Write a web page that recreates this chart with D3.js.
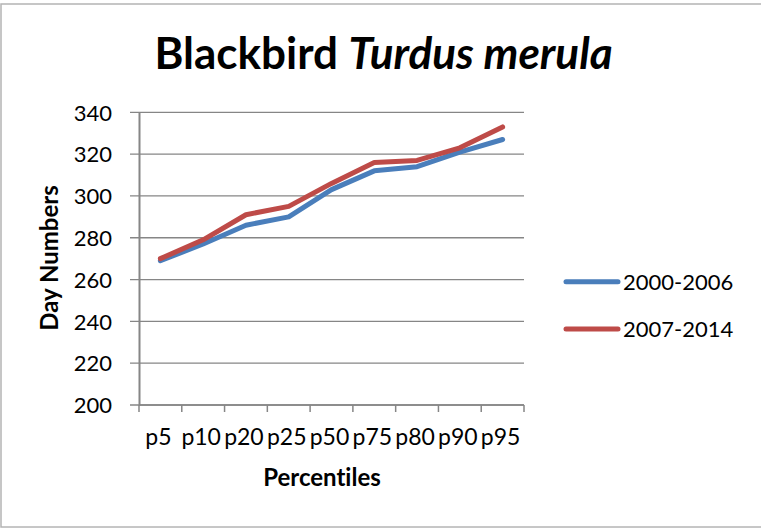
<!DOCTYPE html>
<html>
<head>
<meta charset="utf-8">
<script src="https://cdn.jsdelivr.net/npm/d3@7"></script>
<style>
  body { margin: 0; background: #fff; }
  text { font-family: Lato, "Open Sans", sans-serif; fill: #000; font-variant-ligatures: none; }
</style>
</head>
<body>
<svg id="chart"></svg>
<script>
// percentiles on the x axis
var percentiles = ["p5", "p10", "p20", "p25", "p50", "p75", "p80", "p90", "p95"];
// day numbers per period
var early = [269, 277, 286, 290, 303, 312, 314, 321, 327];   // 2000-2006
var late = [270, 279, 291, 295, 306, 316, 317, 323, 333];    // 2007-2014
var seriesNames = ["2000-2006", "2007-2014"];
var seriesColors = ["#4a7ebb", "#be4b48"];
var yTicks = [200, 220, 240, 260, 280, 300, 320, 340];

var W = 761, H = 528;
var svg = d3.select("#chart").attr("width", W).attr("height", H);

// outer chart border
svg.append("rect")
  .attr("x", 1).attr("y", 4).attr("width", W + 5).attr("height", 523)
  .attr("fill", "#fff").attr("stroke", "#b4b4b4").attr("stroke-width", 1.5);

var plotL = 139, plotR = 524, plotT = 112.3, plotB = 405;

var x = d3.scaleBand().domain(percentiles).range([plotL, plotR]);
var y = d3.scaleLinear().domain([200, 340]).range([plotB, plotT]);

// gridlines
svg.append("g")
  .selectAll("line")
  .data(yTicks)
  .enter()
  .append("line")
  .attr("x1", plotL - 9).attr("x2", plotR)
  .attr("y1", d => y(d)).attr("y2", d => y(d))
  .attr("stroke", "#868686").attr("stroke-width", 1.3);

// y axis
var yAxis = svg.append("g")
  .attr("transform", "translate(" + plotL + ",0)")
  .call(d3.axisLeft(y).tickValues(yTicks).tickSize(0).tickPadding(27));
yAxis.select(".domain").attr("stroke", "#868686").attr("stroke-width", 2);
yAxis.selectAll("text")
  .style("font-size", "22px").style("font-family", "Lato").attr("dy", "0.35em");

// x axis
var xAxis = svg.append("g")
  .attr("transform", "translate(0," + plotB + ")");
xAxis.append("line")
  .attr("x1", plotL).attr("x2", plotR).attr("y1", 0).attr("y2", 0)
  .attr("stroke", "#868686").attr("stroke-width", 1.5);
xAxis.selectAll(".tk")
  .data(percentiles.concat(["end"]))
  .enter()
  .append("line")
  .attr("class", "tk")
  .attr("x1", (d, i) => i < percentiles.length ? x(d) : plotR)
  .attr("x2", (d, i) => i < percentiles.length ? x(d) : plotR)
  .attr("y1", 0).attr("y2", 7)
  .attr("stroke", "#868686").attr("stroke-width", 1.5);
xAxis.selectAll(".lbl")
  .data(percentiles)
  .enter()
  .append("text")
  .attr("class", "lbl")
  .attr("x", d => x(d) + x.bandwidth() / 2 - 2)
  .attr("y", 40)
  .attr("text-anchor", "middle")
  .style("font-size", "23px")
  .text(d => d);

// lines
var line = d3.line()
  .x((d, i) => x(percentiles[i]) + x.bandwidth() / 2)
  .y(d => y(d));

[early, late].forEach(function(vals, k) {
  svg.append("path")
    .datum(vals)
    .attr("d", line)
    .attr("fill", "none")
    .attr("stroke", seriesColors[k])
    .attr("stroke-width", 5)
    .attr("stroke-linecap", "round")
    .attr("stroke-linejoin", "round");
});

// title
var title = svg.append("text")
  .attr("x", 383.5).attr("y", 69)
  .attr("text-anchor", "middle")
  .style("font-size", "44px").style("font-weight", "bold");
title.append("tspan").text("Blackbird ");
title.append("tspan").style("font-style", "italic").text("Turdus merula");

// axis titles
svg.append("text")
  .attr("transform", "translate(58,258) rotate(-90)")
  .attr("text-anchor", "middle")
  .style("font-size", "24px").style("font-weight", "bold")
  .text("Day Numbers");

svg.append("text")
  .attr("x", 322).attr("y", 486)
  .attr("text-anchor", "middle")
  .style("font-size", "24px").style("font-weight", "bold")
  .text("Percentiles");

// legend
var legend = svg.append("g");
seriesNames.forEach(function(name, k) {
  var ly = 281.7 + k * 47.3;
  legend.append("line")
    .attr("x1", 566).attr("x2", 618).attr("y1", ly).attr("y2", ly)
    .attr("stroke", seriesColors[k]).attr("stroke-width", 5)
    .attr("stroke-linecap", "round");
  legend.append("text")
    .attr("x", 623).attr("y", ly + 8)
    .style("font-size", "22px")
    .text(name);
});
</script>
</body>
</html>
